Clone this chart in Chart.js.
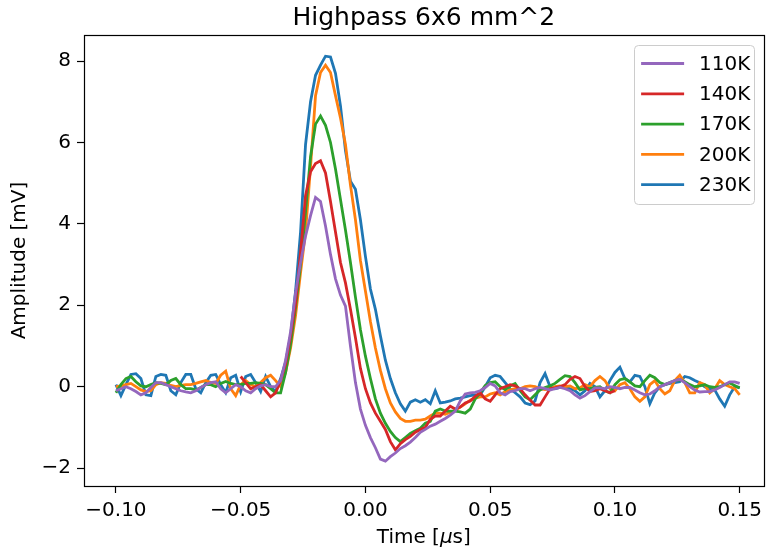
<!DOCTYPE html>
<html>
<head>
<meta charset="utf-8">
<script src="https://cdn.jsdelivr.net/npm/chart.js@4.4.0/dist/chart.umd.min.js"></script>
<style>
  html, body { margin: 0; padding: 0; background: #fff; }
</style>
</head>
<body>
<canvas id="chart" width="768" height="551"></canvas>
<script>
// sample times in microseconds
const times = [
  -0.100, -0.098, -0.096, -0.094, -0.092, -0.090, -0.088, -0.086, -0.084, -0.082,
  -0.080, -0.078, -0.076, -0.074, -0.072, -0.070, -0.068, -0.066, -0.064, -0.062,
  -0.060, -0.058, -0.056, -0.054, -0.052, -0.050, -0.048, -0.046, -0.044, -0.042,
  -0.040, -0.038, -0.036, -0.034, -0.032, -0.030, -0.028, -0.026, -0.024, -0.022,
  -0.020, -0.018, -0.016, -0.014, -0.012, -0.010, -0.008, -0.006, -0.004, -0.002,
  0.000, 0.002, 0.004, 0.006, 0.008, 0.010, 0.012, 0.014, 0.016, 0.018,
  0.020, 0.022, 0.024, 0.026, 0.028, 0.030, 0.032, 0.034, 0.036, 0.038,
  0.040, 0.042, 0.044, 0.046, 0.048, 0.050, 0.052, 0.054, 0.056, 0.058,
  0.060, 0.062, 0.064, 0.066, 0.068, 0.070, 0.072, 0.074, 0.076, 0.078,
  0.080, 0.082, 0.084, 0.086, 0.088, 0.090, 0.092, 0.094, 0.096, 0.098,
  0.100, 0.102, 0.104, 0.106, 0.108, 0.110, 0.112, 0.114, 0.116, 0.118,
  0.120, 0.122, 0.124, 0.126, 0.128, 0.130, 0.132, 0.134, 0.136, 0.138,
  0.140, 0.142, 0.144, 0.146, 0.148, 0.150
];

// amplitudes in mV
const v110 = [
  -0.10, -0.05, 0.00, -0.05, -0.12, -0.20, -0.15, -0.02, 0.10, 0.10,
  0.05, 0.00, -0.05, -0.10, -0.13, -0.15, -0.10, -0.02, 0.05, 0.10,
  0.12, -0.05, -0.15, -0.05, 0.05, 0.00, -0.10, -0.15, -0.05, 0.02,
  0.05, 0.00, 0.00, 0.15, 0.65, 1.35, 2.30, 3.05, 3.70, 4.20,
  4.65, 4.55, 3.95, 3.25, 2.65, 2.25, 1.98, 1.00, 0.10, -0.55,
  -0.95, -1.25, -1.50, -1.78, -1.83, -1.72, -1.63, -1.52, -1.45, -1.36,
  -1.25, -1.12, -1.05, -0.97, -0.92, -0.85, -0.78, -0.70, -0.60, -0.35,
  -0.18, -0.15, -0.14, -0.10, -0.02, 0.08, 0.02, -0.15, -0.20, -0.12,
  -0.10, -0.05, -0.05, -0.10, -0.05, -0.02, -0.05, -0.08, -0.05, -0.02,
  -0.05, -0.10, -0.20, -0.28, -0.22, -0.12, -0.03, -0.03, -0.05, 0.00,
  -0.02, -0.05, -0.02, -0.02, -0.08, -0.15, -0.20, -0.18, -0.10, 0.00,
  0.05, 0.10, 0.15, 0.18, 0.10, 0.00, -0.08, -0.13, -0.12, -0.12,
  -0.08, -0.02, 0.05, 0.12, 0.12, 0.08
];

const v140 = [
  null, null, null, null, null, null, null, null, null, null,
  null, null, null, null, null, null, null, null, null, null,
  null, null, null, null, null, 0.25, 0.10, -0.05, 0.00, 0.05,
  -0.10, -0.25, -0.15, 0.15, 0.55, 1.25, 2.05, 3.30, 4.70, 5.28,
  5.48, 5.55, 5.25, 4.55, 3.80, 3.05, 2.55, 1.90, 1.20, 0.45,
  -0.05, -0.40, -0.65, -0.85, -1.05, -1.35, -1.55, -1.40, -1.30, -1.22,
  -1.12, -1.05, -1.00, -0.80, -0.72, -0.72, -0.60, -0.48, -0.55, -0.50,
  -0.40, -0.35, -0.24, -0.15, -0.30, -0.36, -0.20, -0.05, 0.00, 0.05,
  0.02, -0.05, -0.20, -0.33, -0.45, -0.45, -0.25, -0.05, -0.03, 0.00,
  0.05, 0.18, 0.25, 0.20, 0.00, -0.12, -0.10, -0.05, -0.10, -0.15,
  -0.10, null, null, null, null, null, null, null, null, null,
  null, null, null, null, null, null, null, null, null, null,
  null, null, null, null, null, null
];

const v170 = [
  -0.15, 0.05, 0.20, 0.25, 0.12, 0.02, 0.00, 0.05, 0.10, 0.08,
  0.05, 0.15, 0.20, 0.05, -0.05, -0.05, -0.08, -0.02, 0.05, 0.05,
  0.00, 0.08, 0.13, 0.08, 0.05, 0.05, 0.08, 0.08, 0.10, 0.08,
  0.05, -0.05, -0.15, -0.15, 0.35, 1.05, 1.95, 3.00, 4.30, 5.65,
  6.45, 6.65, 6.42, 6.00, 5.35, 4.60, 3.85, 3.05, 2.20, 1.40,
  0.75, 0.20, -0.30, -0.65, -0.90, -1.10, -1.25, -1.35, -1.25, -1.15,
  -1.08, -1.02, -0.90, -0.85, -0.60, -0.55, -0.60, -0.60, -0.60, -0.62,
  -0.65, -0.55, -0.30, -0.15, 0.03, 0.10, 0.12, 0.00, -0.07, 0.02,
  0.08, -0.10, -0.25, -0.32, -0.20, -0.08, -0.02, 0.02, 0.08, 0.18,
  0.27, 0.25, 0.10, -0.08, -0.05, -0.05, -0.02, 0.00, -0.10, -0.15,
  0.05, 0.17, 0.20, 0.12, 0.02, 0.00, 0.15, 0.28, 0.22, 0.10,
  0.05, 0.10, 0.15, 0.17, 0.12, 0.05, 0.00, 0.02, 0.05, 0.00,
  -0.02, 0.00, 0.05, 0.09, 0.03, -0.03
];

const v200 = [
  0.00, 0.02, 0.05, 0.08, 0.00, -0.08, -0.12, -0.10, 0.05, 0.10,
  0.08, 0.03, 0.00, 0.03, 0.05, 0.05, 0.08, 0.12, 0.15, 0.10,
  0.08, 0.28, 0.38, -0.05, -0.22, 0.05, 0.15, 0.05, 0.00, 0.10,
  0.22, 0.28, 0.15, 0.00, 0.35, 0.95, 1.75, 2.80, 3.80, 5.40,
  7.15, 7.72, 7.90, 7.72, 7.15, 6.60, 5.95, 4.95, 4.10, 3.10,
  2.35, 1.60, 0.95, 0.40, -0.05, -0.40, -0.62, -0.78, -0.85, -0.85,
  -0.82, -0.82, -0.80, -0.72, -0.65, -0.65, -0.68, -0.63, -0.58, -0.50,
  -0.42, -0.33, -0.28, -0.25, -0.25, -0.18, -0.15, -0.20, -0.12, -0.08,
  -0.05, -0.05, 0.00, 0.02, 0.00, -0.05, -0.07, -0.05, 0.00, 0.02,
  0.00, 0.02, -0.05, -0.03, 0.05, 0.00, 0.15, 0.25, 0.15, -0.05,
  -0.10, 0.05, 0.10, -0.05, -0.25, -0.36, -0.25, 0.05, 0.15, -0.05,
  -0.18, -0.10, 0.15, 0.28, 0.10, -0.15, -0.15, 0.10, 0.05, -0.15,
  -0.05, 0.15, 0.05, 0.00, -0.05, -0.20
];

const v230 = [
  0.05, -0.22, 0.05, 0.30, 0.32, 0.20, -0.20, -0.22, 0.25, 0.30,
  0.28, -0.10, -0.20, 0.10, 0.30, 0.30, -0.05, -0.15, 0.10, 0.28,
  0.30, 0.05, -0.15, 0.22, 0.28, -0.12, 0.25, 0.30, 0.10, -0.12,
  0.25, 0.00, -0.12, 0.20, 0.60, 1.25, 2.35, 3.80, 5.95, 7.00,
  7.65, 7.90, 8.12, 8.10, 7.70, 6.90, 5.80, 5.05, 4.85, 4.10,
  3.20, 2.40, 1.90, 1.25, 0.65, 0.20, -0.15, -0.42, -0.60, -0.38,
  -0.32, -0.38, -0.32, -0.42, -0.10, -0.40, -0.38, -0.35, -0.30, -0.28,
  -0.25, -0.22, -0.20, -0.20, 0.00, 0.22, 0.28, 0.25, 0.10, -0.05,
  -0.15, -0.25, -0.40, -0.44, -0.35, 0.10, 0.32, 0.00, -0.05, -0.02,
  0.00, -0.05, -0.10, -0.20, -0.10, 0.08, 0.00, -0.25, -0.10, 0.15,
  0.35, 0.48, 0.20, 0.12, 0.28, 0.25, 0.00, -0.42, -0.15, 0.00,
  0.05, 0.08, 0.10, 0.12, 0.25, 0.22, 0.15, 0.10, 0.00, -0.05,
  -0.08, -0.30, -0.48, -0.20, 0.00, -0.02
];

const seriesLabels = ['110K', '140K', '170K', '200K', '230K'];
const seriesColors = ['#9467bd', '#d62728', '#2ca02c', '#ff7f0e', '#1f77b4'];
const xTicks = [-0.10, -0.05, 0.00, 0.05, 0.10, 0.15];
const yTicks = [-2, 0, 2, 4, 6, 8];
const chartTitle = 'Highpass 6x6 mm^2';
const xTitleParts = ['Time [', 'μ', 's]'];   // the mu is italic, like mathtext
const yTitle = 'Amplitude [mV]';

const FONT = "'DejaVu Sans', sans-serif";

function minus(v, digits) {
  return (v < -1e-9 ? '\u2212' : '') + Math.abs(v).toFixed(digits);
}

function points(values) {
  const out = [];
  values.forEach((v, i) => { if (v !== null) out.push({ x: times[i], y: v }); });
  return out;
}

// title, frame, x label and legend drawn the matplotlib way
const decor = {
  id: 'decor',
  afterDatasetsDraw(chart) {
    const { ctx, chartArea: a } = chart;
    ctx.save();
    ctx.strokeStyle = '#000';
    ctx.lineWidth = 1.2;
    ctx.strokeRect(Math.round(a.left) + 0.5, Math.round(a.top) + 0.5,
                   Math.round(a.right - a.left), Math.round(a.bottom - a.top));

    ctx.fillStyle = '#000';
    ctx.font = '25px ' + FONT;
    ctx.textAlign = 'center';
    ctx.textBaseline = 'alphabetic';
    ctx.fillText(chartTitle, (a.left + a.right) / 2, 25);

    // x axis label with italic mu
    const styles = ['20px ' + FONT, 'italic 20px ' + FONT, '20px ' + FONT];
    let total = 0;
    const widths = xTitleParts.map((p, i) => { ctx.font = styles[i]; const w = ctx.measureText(p).width; total += w; return w; });
    let x = (a.left + a.right) / 2 - total / 2;
    ctx.textAlign = 'left';
    xTitleParts.forEach((p, i) => { ctx.font = styles[i]; ctx.fillText(p, x, 543); x += widths[i]; });

    // legend box
    const bx = a.right - 129.5, by = a.top + 9.5, bw = 120, bh = 159;
    ctx.beginPath();
    ctx.roundRect(Math.round(bx) + 0.5, Math.round(by) + 0.5, bw, bh, 4);
    ctx.fillStyle = 'rgba(255,255,255,0.8)';
    ctx.fill();
    ctx.strokeStyle = '#cccccc';
    ctx.lineWidth = 1;
    ctx.stroke();
    ctx.font = '20px ' + FONT;
    ctx.textBaseline = 'middle';
    chart.data.datasets.forEach((ds, i) => {
      const y = by + 19 + i * 30.3;
      ctx.strokeStyle = ds.borderColor;
      ctx.lineWidth = 2.8;
      ctx.beginPath();
      ctx.moveTo(bx + 7, y);
      ctx.lineTo(bx + 50, y);
      ctx.stroke();
      ctx.fillStyle = '#000';
      ctx.fillText(ds.label, bx + 65, y + 1);
    });
    ctx.restore();
  }
};

const allValues = [v110, v140, v170, v200, v230];

new Chart(document.getElementById('chart'), {
  type: 'line',
  data: {
    datasets: allValues.map((vals, i) => ({
      label: seriesLabels[i],
      data: points(vals),
      borderColor: seriesColors[i],
      backgroundColor: seriesColors[i],
      borderWidth: 2.8,
      pointRadius: 0,
      tension: 0,
      fill: false
    }))
  },
  options: {
    responsive: false,
    animation: false,
    devicePixelRatio: 1,
    layout: { padding: { top: 35, right: 2, left: 0, bottom: 0 } },
    plugins: { legend: { display: false }, tooltip: { enabled: false } },
    scales: {
      x: {
        type: 'linear',
        min: -0.1128,
        max: 0.1596,
        afterBuildTicks: s => { s.ticks = xTicks.map(v => ({ value: v })); },
        afterFit: s => { s.height = 65; },
        ticks: {
          autoSkip: false, maxRotation: 0, padding: 6, color: '#000',
          font: { family: FONT, size: 20 },
          callback: v => minus(v, 2)
        },
        grid: { drawOnChartArea: false, drawTicks: true, tickLength: 7, tickColor: '#000', tickWidth: 1.2 },
        border: { display: false }
      },
      y: {
        min: -2.44,
        max: 8.64,
        afterBuildTicks: s => { s.ticks = yTicks.map(v => ({ value: v })); },
        afterFit: s => { s.width = 84; },
        ticks: {
          autoSkip: false, padding: 6, color: '#000',
          font: { family: FONT, size: 20 },
          callback: v => minus(v, 0)
        },
        grid: { drawOnChartArea: false, drawTicks: true, tickLength: 7, tickColor: '#000', tickWidth: 1.2 },
        border: { display: false },
        title: {
          display: true, text: yTitle, color: '#000',
          font: { family: FONT, size: 20 }, padding: { top: 8, bottom: 0 }
        }
      }
    }
  },
  plugins: [decor]
});
</script>
</body>
</html>
